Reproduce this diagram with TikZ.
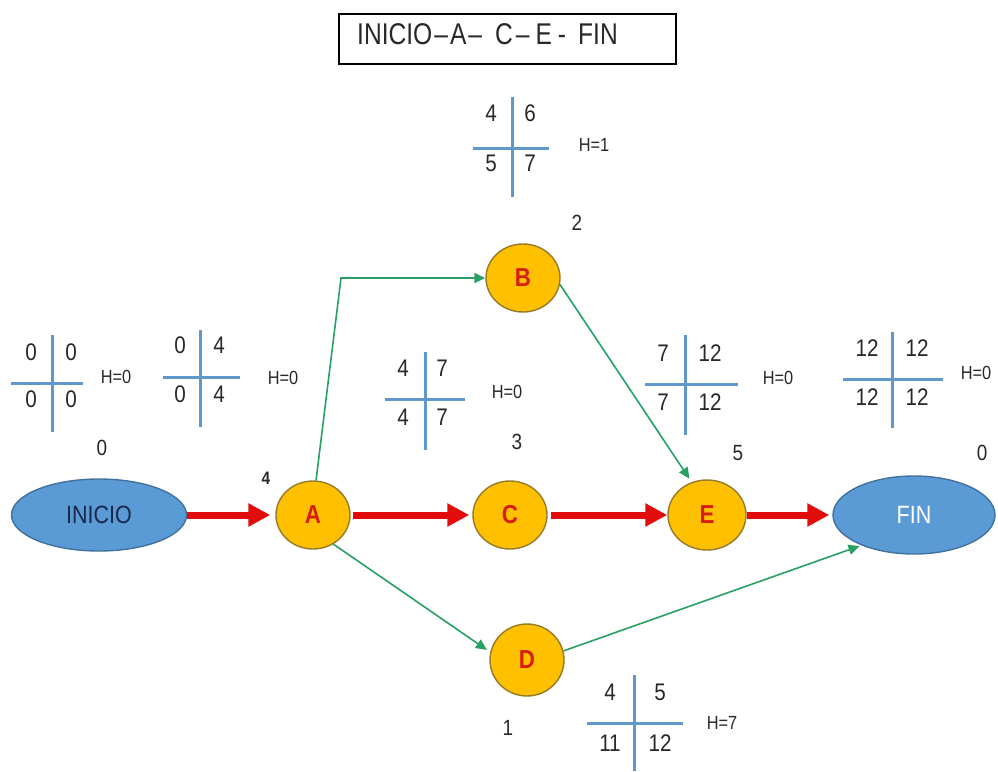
\documentclass[tikz,border=0pt]{standalone}
\usepackage{fontspec}
\setmainfont{Liberation Sans}[FakeStretch=0.86]
\newfontfamily\titulofont{Liberation Sans}[FakeStretch=0.82]
\usetikzlibrary{arrows.meta,shapes.geometric}

\definecolor{azul}{RGB}{91,155,213}
\definecolor{azulborde}{RGB}{65,113,156}
\definecolor{naranja}{RGB}{255,192,0}
\definecolor{bordenaranja}{RGB}{150,122,40}
\definecolor{rojo}{RGB}{226,12,12}
\definecolor{rojoletra}{RGB}{215,30,20}
\definecolor{verde}{RGB}{40,160,100}
\definecolor{azulcruz}{RGB}{96,152,204}
\definecolor{gristexto}{RGB}{40,40,40}
\definecolor{marino}{RGB}{25,40,75}

\begin{document}
\begin{tikzpicture}[x=1pt,y=-1pt,
  evento/.style={ellipse, draw=bordenaranja, line width=1.4pt, fill=naranja,
    minimum width=74pt, minimum height=68pt, inner sep=0pt,
    font=\fontsize{26}{26}\selectfont\bfseries, text=rojoletra},
  extremo/.style={ellipse, draw=azulborde, line width=1.4pt, fill=azul, inner sep=0pt,
    font=\fontsize{25}{25}\selectfont},
  critica/.style={draw=rojo, line width=7pt, -{Triangle[length=22pt,width=22pt]}},
  holgura/.style={draw=verde, line width=1.6pt, -{Triangle[length=11pt,width=10pt]}},
  cruz/.style={draw=azulcruz, line width=3pt},
  dato/.style={font=\fontsize{24}{24}\selectfont, text=gristexto, inner sep=0pt},
  hval/.style={font=\fontsize{19}{19}\selectfont, text=gristexto, inner sep=0pt},
  etiqueta/.style={font=\fontsize{22}{22}\selectfont, text=gristexto, inner sep=0pt},
  caja/.style={draw=black, line width=1.3pt, minimum width=337pt, minimum height=50pt, inner sep=0pt}
]
\useasboundingbox (0,0) rectangle (998,771);

% critical path in the title box
\node (caja) [caja] at (507.5,39) {};
\node (ruta) [anchor=west, inner sep=0pt, font=\titulofont\fontsize{30}{30}\selectfont, text=gristexto] at (357,34)
  {INICIO\hspace{2pt}–\hspace{2pt}A\hspace{2pt}–\hspace{13pt}C\hspace{3pt}–\hspace{6pt}E\hspace{6pt}-\hspace{12pt}FIN};

% events
\node (INICIO) [extremo, minimum width=175pt, minimum height=72pt, text=marino] at (99,515) {INICIO};
\node (FIN) [extremo, minimum width=162pt, minimum height=78pt, text=white] at (914,515) {FIN};
\node (A) [evento] at (313,515) {A};
\node (B) [evento] at (523,278) {B};
\node (C) [evento] at (510,515) {C};
\node (D) [evento, minimum height=72pt] at (527,660) {D};
\node (E) [evento, minimum width=78pt, minimum height=70pt] at (707,515) {E};

% critical activities
\draw[critica, shorten >=5pt] (INICIO.east) -- (A.west);
\draw[critica, shorten <=2pt, shorten >=3pt] (A.east) -- (C.west);
\draw[critica, shorten <=3pt] (C.east) -- (E.west);
\draw[critica, shorten >=3pt] (E.east) -- (FIN.west);

% activities with slack
\coordinate (codoAB) at (341,278);
\draw[holgura] (A.85) -- (codoAB) -- (B.west);
\draw[holgura, shorten >=4pt] (B.-10) -- (E.115);
\draw[holgura, shorten >=4pt] (A.-55) -- (D.168);
\draw[holgura, shorten >=2pt] (D.14) -- (FIN.210);

% duration labels
\node (dINICIO) [etiqueta] at (102,448) {0};
\node (dA) [etiqueta, font=\fontsize{18}{18}\selectfont\bfseries] at (266,478) {4};
\node (dB) [etiqueta] at (577,223) {2};
\node (dC) [etiqueta] at (517,442) {3};
\node (dE) [etiqueta] at (738,453) {5};
\node (dFIN) [etiqueta] at (982,453) {0};
\node (dD) [etiqueta] at (508,728) {1};

% time tables: INICIO
\draw[cruz] (11,383) -- (83,383);
\draw[cruz] (52,335) -- (52,432);
\node (iTL) [dato] at (31,352) {0};
\node (iTR) [dato] at (71,352) {0};
\node (iBL) [dato] at (31,399) {0};
\node (iBR) [dato] at (71,399) {0};
\node (iH) [hval] at (116,377) {H=0};

% time tables: A
\draw[cruz] (163,377) -- (240,377);
\draw[cruz] (200,330) -- (200,427);
\node (aTL) [dato] at (180,345) {0};
\node (aTR) [dato] at (219,345) {4};
\node (aBL) [dato] at (180,394) {0};
\node (aBR) [dato] at (219,394) {4};
\node (aH) [hval] at (283,378) {H=0};

% time tables: B
\draw[cruz] (473,148) -- (549,148);
\draw[cruz] (512,97) -- (512,197);
\node (bTL) [dato] at (491,113) {4};
\node (bTR) [dato] at (530,113) {6};
\node (bBL) [dato] at (491,163) {5};
\node (bBR) [dato] at (530,163) {7};
\node (bH) [hval] at (594,145) {H=1};

% time tables: C
\draw[cruz] (385,399) -- (465,399);
\draw[cruz] (425,352) -- (425,450);
\node (cTL) [dato] at (403,368) {4};
\node (cTR) [dato] at (442,368) {7};
\node (cBL) [dato] at (403,417) {4};
\node (cBR) [dato] at (442,417) {7};
\node (cH) [hval] at (507,392) {H=0};

% time tables: E
\draw[cruz] (645,384) -- (738,384);
\draw[cruz] (685,335) -- (685,435);
\node (eTL) [dato] at (663,353) {7};
\node (eTR) [dato] at (710,353) {12};
\node (eBL) [dato] at (663,402) {7};
\node (eBR) [dato] at (710,402) {12};
\node (eH) [hval] at (778,378) {H=0};

% time tables: FIN
\draw[cruz] (843,379) -- (943,379);
\draw[cruz] (892,332) -- (892,428);
\node (fTL) [dato] at (867,348) {12};
\node (fTR) [dato] at (917,348) {12};
\node (fBL) [dato] at (867,397) {12};
\node (fBR) [dato] at (917,397) {12};
\node (fH) [hval] at (976,373) {H=0};

% time tables: D
\draw[cruz] (587,723) -- (683,723);
\draw[cruz] (634,675) -- (634,771);
\node (dTL) [dato] at (610,692) {4};
\node (dTR) [dato] at (660,692) {5};
\node (dBL) [dato] at (610,743) {11};
\node (dBR) [dato] at (660,743) {12};
\node (dH) [hval] at (722,723) {H=7};
\end{tikzpicture}
\end{document}
